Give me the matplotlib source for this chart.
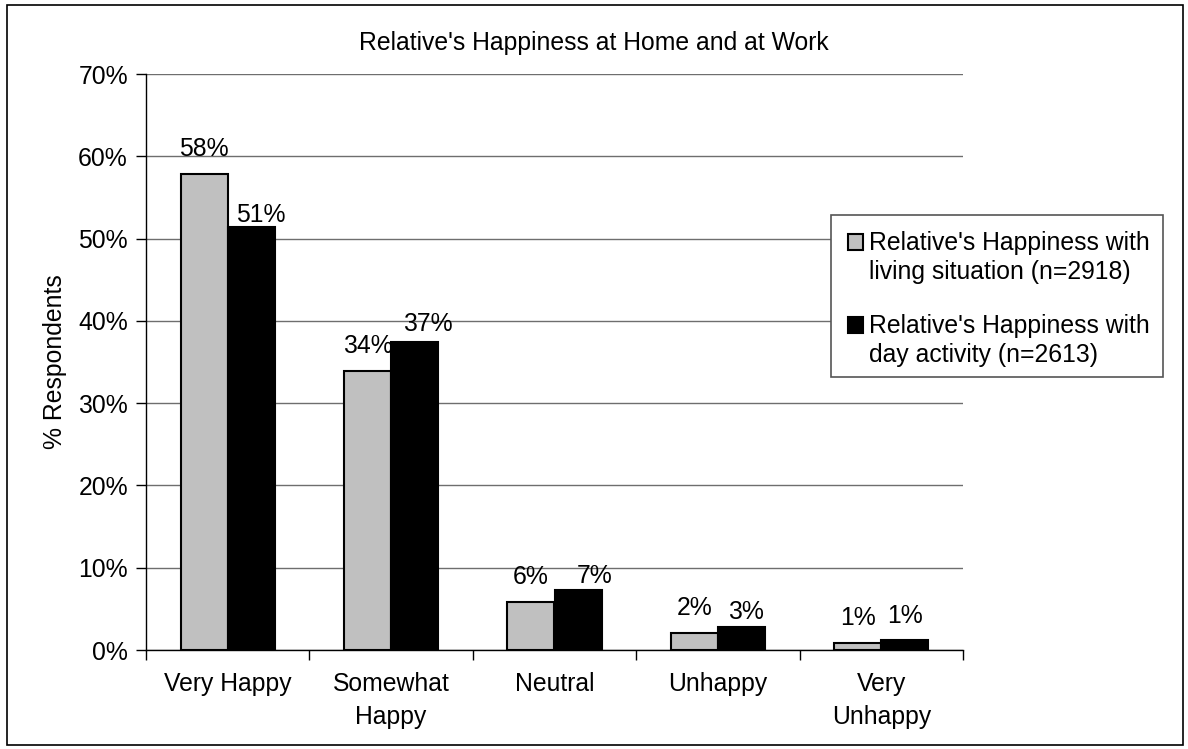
import matplotlib
matplotlib.use("Agg")
import matplotlib.pyplot as plt
from matplotlib.patches import Rectangle
import numpy as np

categories = ["Very Happy", "Somewhat\nHappy", "Neutral", "Unhappy", "Very\nUnhappy"]
living = [57.8, 33.9, 5.8, 2.1, 0.9]
day = [51.4, 37.4, 7.3, 2.8, 1.2]
living_labels = ["58%", "34%", "6%", "2%", "1%"]
day_labels = ["51%", "37%", "7%", "3%", "1%"]
series_names = ["Relative's Happiness with\nliving situation (n=2918)",
                "Relative's Happiness with\nday activity (n=2613)"]
yticks = [0, 10, 20, 30, 40, 50, 60, 70]

# label offsets (pixels) as placed in the original chart
living_label_off = [(0, 18), (0, 18), (0, 18), (0, 18), (0, 18)]
day_label_off = [(10, 5), (13, 11), (17, 7), (5, 8), (0, 17)]

plt.rcParams['font.family'] = ['Liberation Sans', 'DejaVu Sans']
FS = 17.8
W, H = 1188, 749

fig = plt.figure(figsize=(W/100, H/100), dpi=100)
ax = fig.add_axes([146/W, 1-650/H, (963-146)/W, (650-74)/H])

x = np.arange(len(categories))
w = 0.288
b1 = ax.bar(x - w/2, living, w, color="#c0c0c0", edgecolor="black", linewidth=1.5, zorder=3)
b2 = ax.bar(x + w/2, day, w, color="black", edgecolor="black", linewidth=1.5, zorder=3)
for rects, labs, offs in ((b1, living_labels, living_label_off), (b2, day_labels, day_label_off)):
    for r, lab, (dx, dy) in zip(rects, labs, offs):
        ax.annotate(lab, (r.get_x() + r.get_width()/2, r.get_height()),
                    xytext=(dx, dy), textcoords="offset pixels",
                    ha="center", va="baseline", fontsize=FS, zorder=4)

ax.set_xlim(-0.5, len(categories) - 0.5)
ax.set_ylim(0, 70)
ax.set_yticks(yticks)
ax.set_yticklabels([f"{v}%" for v in yticks], fontsize=FS)
ax.yaxis.grid(True, color="#6e6e6e", linewidth=1.0, zorder=0)
ax.set_axisbelow(True)
ax.set_xticks(x)
ax.set_xticklabels(categories, fontsize=FS, linespacing=1.45)
ax.set_xticks(np.arange(len(categories) + 1) - 0.5, minor=True)
ax.tick_params(axis="x", which="major", length=0, pad=16)
ax.tick_params(axis="x", which="minor", length=7, width=1, direction="out")
ax.tick_params(axis="y", length=7, width=1, direction="out", pad=6)
for s in ("top", "right"):
    ax.spines[s].set_visible(False)
for s in ("left", "bottom"):
    ax.spines[s].set_linewidth(1)
ax.set_ylabel("% Respondents", fontsize=FS, labelpad=8)
fig.text(0.5, 1-50/H, "Relative's Happiness at Home and at Work",
         ha="center", va="baseline", fontsize=FS)

# legend drawn like the original (handle aligned with first text line)
fig.patches.append(Rectangle((831/W, 1-377/H), (1163-831)/W, (377-215)/H,
                             transform=fig.transFigure, facecolor="white",
                             edgecolor="#555555", linewidth=1.2, zorder=5))
entry_base = [250, 333]
for i, (bars, name) in enumerate(((b1, series_names[0]), (b2, series_names[1]))):
    yb = entry_base[i]
    fig.patches.append(Rectangle((848/W, 1-yb/H), 15/W, 16/H, transform=fig.transFigure,
                                 facecolor=bars.patches[0].get_facecolor(),
                                 edgecolor="black", linewidth=1.5, zorder=6))
    for j, line in enumerate(name.split("\n")):
        fig.text(869/W, 1-(yb + 29*j)/H, line, ha="left", va="baseline",
                 fontsize=FS, zorder=7)

fig.patches.append(Rectangle((7/W, 4/H), 1176/W, 740/H, transform=fig.transFigure,
                             fill=False, edgecolor="black", linewidth=1.2))

fig.savefig("out.png", dpi=100)
